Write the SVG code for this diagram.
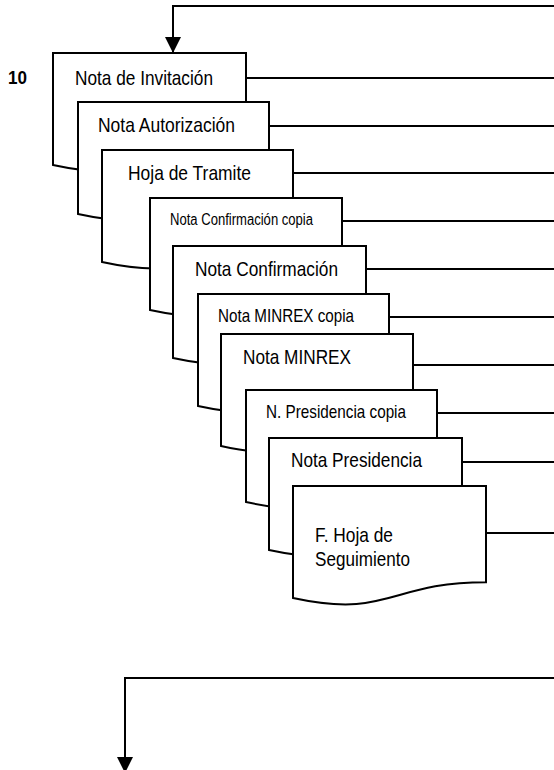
<svg xmlns="http://www.w3.org/2000/svg" width="554" height="770" viewBox="0 0 554 770">
<style>
.doc{fill:#fff;stroke:#000;stroke-width:2;stroke-linejoin:miter}
.lbl{font-family:"Liberation Sans Narrow","Arial Narrow","Liberation Sans",Arial,sans-serif;font-size:21px;fill:#000}
.s16{font-size:16px}
.s18{font-size:18.5px}
.num{font-family:"Liberation Sans",Arial,sans-serif;font-size:18px;font-weight:bold;fill:#000}
.con{fill:none;stroke:#000;stroke-width:2}
</style>
<defs>
<marker id="arr" markerUnits="userSpaceOnUse" markerWidth="17" markerHeight="17" viewBox="0 0 17 17" refX="16" refY="8" orient="auto">
<path d="M0,0 L16,8 L0,16 Z" fill="#000"/>
</marker>
</defs>
<text class="num" x="8" y="84" textLength="19" lengthAdjust="spacingAndGlyphs">10</text>
<g id="connectors">
<path class="con" d="M555,6 H173 V53" marker-end="url(#arr)"/>
<path class="con" d="M555,678 H125 V773" marker-end="url(#arr)"/>
<path class="con" d="M246,78 H555"/>
<path class="con" d="M269,126 H555"/>
<path class="con" d="M293,173 H555"/>
<path class="con" d="M342,221 H555"/>
<path class="con" d="M366,269 H555"/>
<path class="con" d="M389,317 H555"/>
<path class="con" d="M413,365 H555"/>
<path class="con" d="M437,413 H555"/>
<path class="con" d="M462,462 H555"/>
<path class="con" d="M486,533 H555"/>
</g>
<g id="doc1">
<path class="doc" d="M53,53 H246 V149.2 C149.5,149.2 149.5,185.9 53,165 Z"/>
<text class="lbl" x="75" y="85" textLength="138" lengthAdjust="spacingAndGlyphs">Nota de Invitación</text>
</g>
<g id="doc2">
<path class="doc" d="M78,102 H269 V198.2 C173.5,198.2 173.5,234.9 78,214 Z"/>
<text class="lbl" x="98" y="132" textLength="137" lengthAdjust="spacingAndGlyphs">Nota Autorización</text>
</g>
<g id="doc3">
<path class="doc" d="M102,150 H293 V246.2 C197.5,246.2 197.5,282.9 102,262 Z"/>
<text class="lbl" x="128" y="180" textLength="123" lengthAdjust="spacingAndGlyphs">Hoja de Tramite</text>
</g>
<g id="doc4">
<path class="doc" d="M150,198 H342 V294.2 C246,294.2 246,330.9 150,310 Z"/>
<text class="lbl s16" x="170" y="225" textLength="143" lengthAdjust="spacingAndGlyphs">Nota Confirmación copia</text>
</g>
<g id="doc5">
<path class="doc" d="M173,246 H366 V342.2 C269.5,342.2 269.5,378.9 173,358 Z"/>
<text class="lbl" x="195" y="276" textLength="143" lengthAdjust="spacingAndGlyphs">Nota Confirmación</text>
</g>
<g id="doc6">
<path class="doc" d="M198,294 H389 V390.2 C293.5,390.2 293.5,426.9 198,406 Z"/>
<text class="lbl s18" x="218" y="322" textLength="136" lengthAdjust="spacingAndGlyphs">Nota MINREX copia</text>
</g>
<g id="doc7">
<path class="doc" d="M221,334 H413 V430.2 C317,430.2 317,466.9 221,446 Z"/>
<text class="lbl" x="243" y="364" textLength="108" lengthAdjust="spacingAndGlyphs">Nota MINREX</text>
</g>
<g id="doc8">
<path class="doc" d="M246,390 H437 V486.2 C341.5,486.2 341.5,522.9 246,502 Z"/>
<text class="lbl s18" x="266" y="418" textLength="140" lengthAdjust="spacingAndGlyphs">N. Presidencia copia</text>
</g>
<g id="doc9">
<path class="doc" d="M269,438 H462 V534.2 C365.5,534.2 365.5,570.9 269,550 Z"/>
<text class="lbl" x="291" y="467" textLength="131" lengthAdjust="spacingAndGlyphs">Nota Presidencia</text>
</g>
<g id="doc10">
<path class="doc" d="M293,486 H486 V582.2 C389.5,582.2 389.5,618.9 293,598 Z"/>
<text class="lbl" x="315" y="542" textLength="78" lengthAdjust="spacingAndGlyphs">F. Hoja de</text>
<text class="lbl" x="315" y="566" textLength="95" lengthAdjust="spacingAndGlyphs">Seguimiento</text>
</g>
</svg>
